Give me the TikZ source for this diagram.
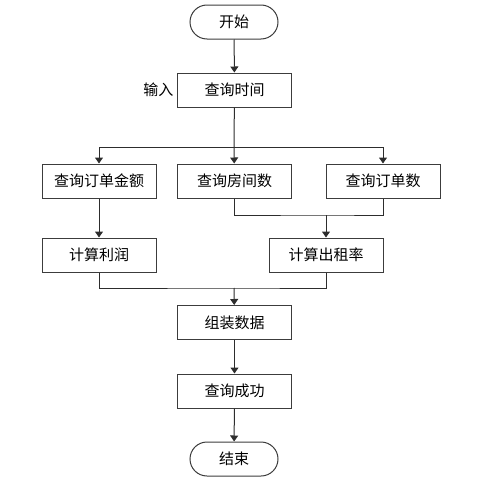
\documentclass[tikz,border=0pt]{standalone}
\usepackage{fontspec}
\setmainfont{Noto Sans CJK SC}
\usetikzlibrary{arrows.meta,positioning,calc}
\definecolor{edgegray}{RGB}{45,45,45}
\definecolor{boxgray}{RGB}{60,60,60}

\begin{document}
\begin{tikzpicture}[x=1pt,y=-1pt,font=\fontsize{15}{18}\selectfont,>={Triangle[width=8pt,length=6pt]},
  procbox/.style={draw=boxgray,line width=1pt,minimum width=114pt,minimum height=34pt,inner sep=0pt},
  terminal/.style={draw=boxgray,line width=1pt,minimum width=88pt,minimum height=34pt,inner sep=0pt,rounded corners=17pt},
  flow/.style={draw=edgegray,line width=1pt}]
  \useasboundingbox (0,0) rectangle (493,479);
  \node[terminal] (start) at (234,22) {开始};
  \node[procbox] (qtime) at (234.5,90) {查询时间};
  \node[left=0pt of qtime] (inlabel) {输入};
  \node[procbox] (qamount) at (99,181) {查询订单金额};
  \node[procbox] (qroom) at (234.5,181) {查询房间数};
  \node[procbox] (qorder) at (383,181) {查询订单数};
  \node[procbox] (profit) at (99,255) {计算利润};
  \node[procbox] (rate) at (326,255) {计算出租率};
  \node[procbox] (pack) at (234.5,322.5) {组装数据};
  \node[procbox] (done) at (234.5,391) {查询成功};
  \node[terminal] (stop) at (234,459) {结束};
  \coordinate (split) at (234,147);
  \coordinate (mergeA) at (326,215);
  \coordinate (mergeB) at (234,288);
  % connectors
  \draw[flow,->] (start) -- (qtime);
  \draw[flow] (qtime) -- (split);
  \draw[flow,->] (split) -| (qamount);
  \draw[flow,->] (split) -- (qroom);
  \draw[flow,->] (split) -| (qorder);
  \draw[flow,->] (qamount) -- (profit);
  \draw[flow] (qroom) |- (mergeA) -| (qorder);
  \draw[flow,->] (mergeA) -- (rate);
  \draw[flow] (profit) |- (mergeB) -| (rate);
  \draw[flow,->] (mergeB) -- (pack);
  \draw[flow,->] (pack) -- (done);
  \draw[flow,->] (done) -- (stop);
\end{tikzpicture}
\end{document}
